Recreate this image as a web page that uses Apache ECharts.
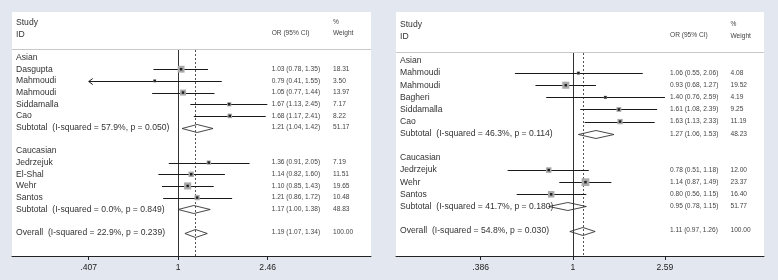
<!DOCTYPE html>
<html><head><meta charset="utf-8">
<script src="https://cdn.jsdelivr.net/npm/echarts@6/dist/echarts.min.js"></script>
<style>html,body{margin:0;padding:0;background:#e3e8f0}#c{width:778px;height:280px}</style>
</head><body><div id="c"></div>
<script>
// ---------- Left panel data ----------
const leftLabels = ['Asian','Dasgupta','Mahmoudi','Mahmoudi','Siddamalla','Cao','Subtotal  (I-squared = 57.9%, p = 0.050)','',
  'Caucasian','Jedrzejuk','El-Shal','Wehr','Santos','Subtotal  (I-squared = 0.0%, p = 0.849)','','Overall  (I-squared = 22.9%, p = 0.239)'];
const leftKind = ['h','s','s','s','s','s','d','','h','s','s','s','s','d','','o'];
const leftOR = [null,1.03,0.79,1.05,1.67,1.68,1.21,null,null,1.36,1.14,1.10,1.21,1.17,null,1.19];
const leftLo = [null,0.78,0.405,0.77,1.13,1.17,1.04,null,null,0.91,0.82,0.85,0.86,1.00,null,1.07];
const leftHi = [null,1.35,1.55,1.44,2.45,2.41,1.42,null,null,2.05,1.60,1.43,1.72,1.38,null,1.34];
const leftW = [null,18.31,3.50,13.97,7.17,8.22,51.17,null,null,7.19,11.51,19.65,10.48,48.83,null,100.00];
const leftTicks = [0.407, 1, 2.46];
const leftTickLabels = ['.407','1','2.46'];

// ---------- Right panel data ----------
const rightLabels = ['Asian','Mahmoudi','Mahmoudi','Bagheri','Siddamalla','Cao','Subtotal  (I-squared = 46.3%, p = 0.114)','',
  'Caucasian','Jedrzejuk','Wehr','Santos','Subtotal  (I-squared = 41.7%, p = 0.180)','','Overall  (I-squared = 54.8%, p = 0.030)'];
const rightKind = ['h','s','s','s','s','s','d','','h','s','s','s','d','','o'];
const rightOR = [null,1.06,0.93,1.40,1.61,1.63,1.27,null,null,0.78,1.14,0.80,0.95,null,1.11];
const rightLo = [null,0.55,0.68,0.76,1.08,1.13,1.06,null,null,0.51,0.87,0.56,0.78,null,0.97];
const rightHi = [null,2.06,1.27,2.59,2.39,2.33,1.53,null,null,1.18,1.49,1.15,1.15,null,1.26];
const rightW = [null,4.08,19.52,4.19,9.25,11.19,48.23,null,null,12.00,23.37,16.40,51.77,null,100.00];
const rightTicks = [0.386, 1, 2.59];
const rightTickLabels = ['.386','1','2.59'];

const FONT = '"Liberation Sans", Arial, Helvetica, sans-serif';
function fmt2(v){ return (Math.round(v*100+1e-9)/100).toFixed(2); }

const panels = [
  {labels:leftLabels, kind:leftKind, or:leftOR, lo:leftLo, hi:leftHi, w:leftW, ticks:leftTicks, tickLabels:leftTickLabels,
   grid:{left:12, top:12, width:359, height:244}, xmin:-1.670, xmax:1.938, ymin:-3.90, ymax:17.0,
   labelX:(16-12)/359, orX:(271.7-12)/359, wX:(333-12)/359},
  {labels:rightLabels, kind:rightKind, or:rightOR, lo:rightLo, hi:rightHi, w:rightW, ticks:rightTicks, tickLabels:rightTickLabels,
   grid:{left:396, top:12, width:368, height:244}, xmin:-1.826, xmax:1.975, ymin:-4.04, ymax:16.09,
   labelX:(400-396)/368, orX:(670-396)/368, wX:(730.5-396)/368}
];

const grids = [], xAxes = [], yAxes = [], series = [];
const SEP = -0.74, BOXK = 1.6;

panels.forEach((P, p) => {
  grids.push(Object.assign({show:true, backgroundColor:'#ffffff', borderWidth:0}, P.grid));
  const lt = P.ticks.map(Math.log);
  xAxes.push({
    type:'value', gridIndex:p, min:P.xmin, max:P.xmax, position:'bottom',
    axisLine:{show:true, onZero:false, lineStyle:{color:'#222', width:1}},
    axisTick:{show:true, inside:false, length:4, customValues:lt, lineStyle:{color:'#222'}},
    axisLabel:{show:true, customValues:lt, margin:7, fontSize:8.6, color:'#222', fontFamily:FONT,
      formatter:(v)=>{ const i = lt.findIndex(t=>Math.abs(t-v)<1e-6); return i>=0 ? P.tickLabels[i] : ''; }},
    splitLine:{show:false}
  });
  xAxes.push({type:'value', gridIndex:p, min:0, max:1, show:false});
  yAxes.push({type:'value', gridIndex:p, min:P.ymin, max:P.ymax, inverse:true, show:false});
  const xi = 2*p, ti = 2*p+1;

  // separator line under header
  series.push({type:'custom', xAxisIndex:ti, yAxisIndex:p, silent:true, z:1, clip:false,
    data:[[0,1,SEP]], encode:{x:[0,1], y:2},
    renderItem:(params, api)=>{
      const a = api.coord([api.value(0), api.value(2)]), b = api.coord([api.value(1), api.value(2)]);
      const y = Math.round(a[1]) + 0.5;
      return {type:'line', shape:{x1:a[0], y1:y, x2:b[0], y2:y}, style:{stroke:'#c9c9c9', lineWidth:1}};
    }});

  // vertical null line and overall dashed line
  const ovIdx = P.kind.indexOf('o');
  series.push({type:'custom', xAxisIndex:xi, yAxisIndex:p, silent:true, z:2, clip:false,
    data:[[Math.log(1), 0], [Math.log(P.or[ovIdx]), 1]], encode:{x:0, y:1},
    renderItem:(params, api)=>{
      const v = api.value(0), dashed = api.value(1) === 1;
      const a = api.coord([v, SEP]), b = api.coord([v, P.ymax]);
      const x = Math.round(a[0]) + 0.5;
      return {type:'line', shape:{x1:x, y1:Math.round(a[1])+1, x2:x, y2:b[1]},
        style:{stroke: dashed ? '#555' : '#333', lineWidth:1, lineDash: dashed ? [2,2] : null}};
    }});

  // confidence interval lines
  const ciData = [];
  P.kind.forEach((k, i) => { if (k === 's') ciData.push([Math.log(P.lo[i]), Math.log(P.hi[i]), i]); });
  series.push({type:'custom', xAxisIndex:xi, yAxisIndex:p, silent:true, z:3, clip:false,
    data:ciData, encode:{x:[0,1], y:2},
    renderItem:(params, api)=>{
      const lo = api.value(0), hi = api.value(1), r = api.value(2);
      const lMin = lt[0], lMax = lt[lt.length-1];
      const a = api.coord([Math.max(lo, lMin), r]), b = api.coord([Math.min(hi, lMax), r]);
      const y = Math.round(a[1]) + 0.5;
      const ch = [{type:'line', shape:{x1:a[0], y1:y, x2:b[0], y2:y}, style:{stroke:'#1a1a1a', lineWidth:1}}];
      if (lo < lMin) ch.push({type:'polyline', shape:{points:[[a[0]+4,y-3],[a[0],y],[a[0]+4,y+3]]}, style:{stroke:'#1a1a1a', fill:null, lineWidth:1}});
      if (hi > lMax) ch.push({type:'polyline', shape:{points:[[b[0]-4,y-3],[b[0],y],[b[0]-4,y+3]]}, style:{stroke:'#1a1a1a', fill:null, lineWidth:1}});
      return {type:'group', children:ch};
    }});

  // weight boxes and centre dots
  const boxData = [], dotData = [];
  P.kind.forEach((k, i) => { if (k === 's') { boxData.push([Math.log(P.or[i]), i, P.w[i]]); dotData.push([Math.log(P.or[i]), i]); } });
  series.push({type:'scatter', xAxisIndex:xi, yAxisIndex:p, silent:true, z:4, symbol:'rect',
    symbolSize:(val)=>BOXK*Math.sqrt(val[2]), itemStyle:{color:'#aaaaaa', opacity:1}, data:boxData, animation:false});
  series.push({type:'scatter', xAxisIndex:xi, yAxisIndex:p, silent:true, z:5, symbol:'rect',
    symbolSize:2.5, itemStyle:{color:'#000'}, data:dotData, animation:false});

  // diamonds
  const dData = [];
  P.kind.forEach((k, i) => { if (k === 'd' || k === 'o') dData.push([Math.log(P.lo[i]), Math.log(P.or[i]), Math.log(P.hi[i]), i]); });
  series.push({type:'custom', xAxisIndex:xi, yAxisIndex:p, silent:true, z:6, clip:false,
    data:dData, encode:{x:[0,1,2], y:3},
    renderItem:(params, api)=>{
      const r = api.value(3);
      const a = api.coord([api.value(0), r]), m = api.coord([api.value(1), r]), b = api.coord([api.value(2), r]);
      const y = Math.round(a[1]) + 0.5, h = 4;
      return {type:'polygon', shape:{points:[[a[0],y],[m[0],y-h],[b[0],y],[m[0],y+h]]},
        style:{stroke:'#333', fill:null, lineWidth:0.9}};
    }});

  // texts
  const texts = [
    {x:P.labelX, y:-3.0, text:'Study', size:8.6, color:'#333'},
    {x:P.labelX, y:-2.0, text:'ID', size:8.6, color:'#333'},
    {x:P.orX, y:-2.1, text:'OR (95% CI)', size:6.6, color:'#444'},
    {x:P.wX, y:-3.05, text:'%', size:6.6, color:'#444'},
    {x:P.wX, y:-2.05, text:'Weight', size:6.6, color:'#444'}
  ];
  P.labels.forEach((lab, i) => {
    if (lab) texts.push({x:P.labelX, y:i, text:lab, size:8.6, color:'#333'});
    if (P.or[i] != null) {
      texts.push({x:P.orX, y:i, text:fmt2(P.or[i])+' ('+fmt2(P.lo[i])+', '+fmt2(P.hi[i])+')', size:6.6, color:'#444'});
      texts.push({x:P.wX, y:i, text:P.w[i].toFixed(2), size:6.6, color:'#444'});
    }
  });
  series.push({type:'custom', xAxisIndex:ti, yAxisIndex:p, silent:true, z:7, clip:false,
    data:texts.map(t=>[t.x, t.y]), encode:{x:0, y:1},
    renderItem:(params, api)=>{
      const t = texts[params.dataIndex];
      const c = api.coord([api.value(0), api.value(1)]);
      return {type:'text', x:c[0], y:c[1], style:{text:t.text, fontSize:t.size, fill:t.color, fontFamily:FONT, align:'left', verticalAlign:'middle'}};
    }});
});

const chart = echarts.init(document.getElementById('c'), null, {renderer:'canvas'});
chart.setOption({
  backgroundColor:'#e3e8f0',
  animation:false,
  grid:grids, xAxis:xAxes, yAxis:yAxes, series:series
});
</script>
</body></html>
